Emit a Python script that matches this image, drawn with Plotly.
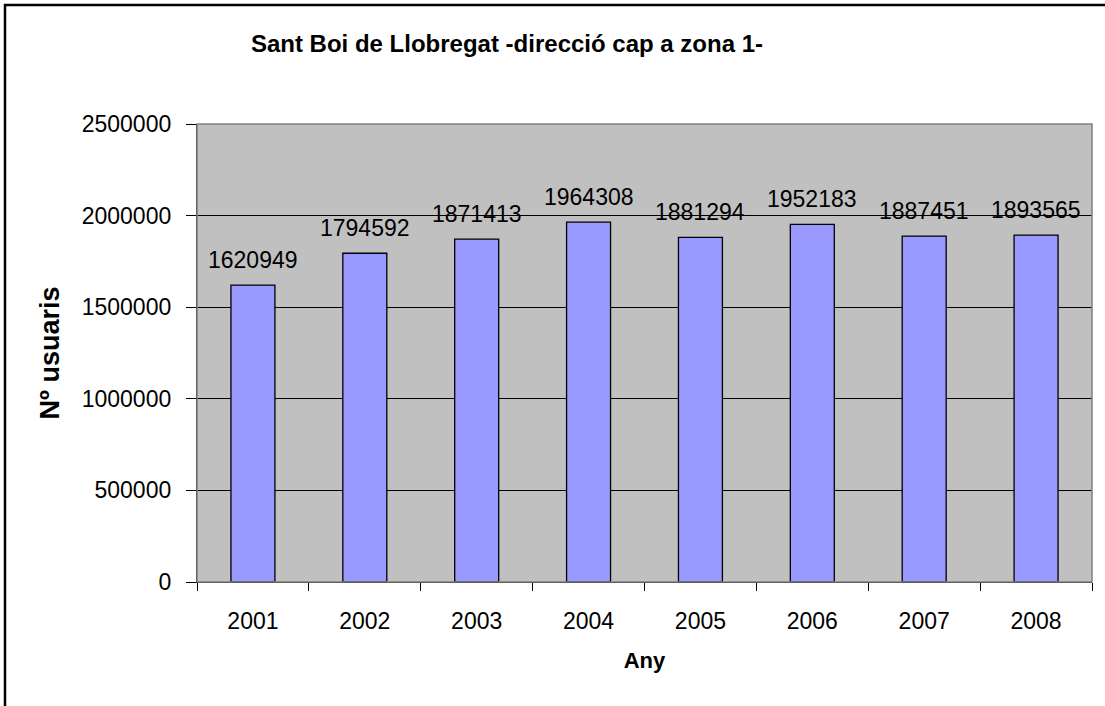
import plotly.graph_objects as go

years = ["2001", "2002", "2003", "2004", "2005", "2006", "2007", "2008"]
users = [1620949, 1794592, 1871413, 1964308, 1881294, 1952183, 1887451, 1893565]
y_ticks = [0, 500000, 1000000, 1500000, 2000000, 2500000]

W, H = 1105, 706
L, R, T, B = 197, 13, 124, 124
pw, ph = W - L - R, H - T - B

font = "Liberation Sans, Arial, sans-serif"

fig = go.Figure(go.Bar(
    x=years, y=users,
    marker=dict(color="#9999FF", line=dict(color="black", width=1.3)),
    hoverinfo="x+y",
))

# value labels above each bar (category axis: position by category index)
for i, v in enumerate(users):
    fig.add_annotation(x=i, y=v, xref="x", yref="y", text=str(v), showarrow=False,
                       yanchor="bottom", yshift=10,
                       font=dict(size=23, color="black", family=font))

fig.update_layout(
    width=W, height=H,
    margin=dict(l=L, r=R, t=T, b=B, pad=0),
    paper_bgcolor="white", plot_bgcolor="#C0C0C0",
    bargap=0.607, showlegend=False,
    font=dict(family=font, color="black"),
    title=dict(text="<b>Sant Boi de Llobregat -direcció cap a zona 1-</b>",
               x=507 / W, xanchor="center", y=1 - 44 / H, yanchor="middle",
               font=dict(size=24, family=font)),
    shapes=[
        dict(type="rect", xref="paper", yref="paper", x0=0, x1=1, y0=0, y1=1,
             line=dict(color="#808080", width=1.5), layer="above"),
        dict(type="rect", xref="paper", yref="paper",
             x0=(5 - L) / pw, x1=(1112 - L) / pw,
             y0=(H - T - 712) / ph, y1=(H - B - 5) / ph,
             line=dict(color="black", width=2.5)),
    ],
)

fig.update_xaxes(
    type="category", categoryorder="array", categoryarray=years,
    range=[-0.5, len(years) - 0.5],
    tickson="boundaries", ticks="outside", ticklen=8,
    tickcolor="black", showline=True, linecolor="black", linewidth=1.3,
    showgrid=False, tickfont=dict(size=23, family=font), tickangle=0,
    ticklabelstandoff=18,
    title=dict(text="<b>Any</b>", font=dict(size=22, family=font), standoff=19),
)
fig.update_yaxes(
    range=[0, 2500000], tickvals=y_ticks, ticktext=[str(v) for v in y_ticks],
    ticks="outside", ticklen=10, tickcolor="black",
    showline=True, linecolor="black", linewidth=1.3,
    showgrid=True, gridcolor="black", gridwidth=1, zeroline=False,
    tickfont=dict(size=23, family=font), ticklabelstandoff=10,
    title=dict(text="<b>Nº usuaris</b>", font=dict(size=27, family=font), standoff=14),
)

fig.write_html("out.html", config={"displayModeBar": False},
               post_script="document.body.style.margin='0px';")
